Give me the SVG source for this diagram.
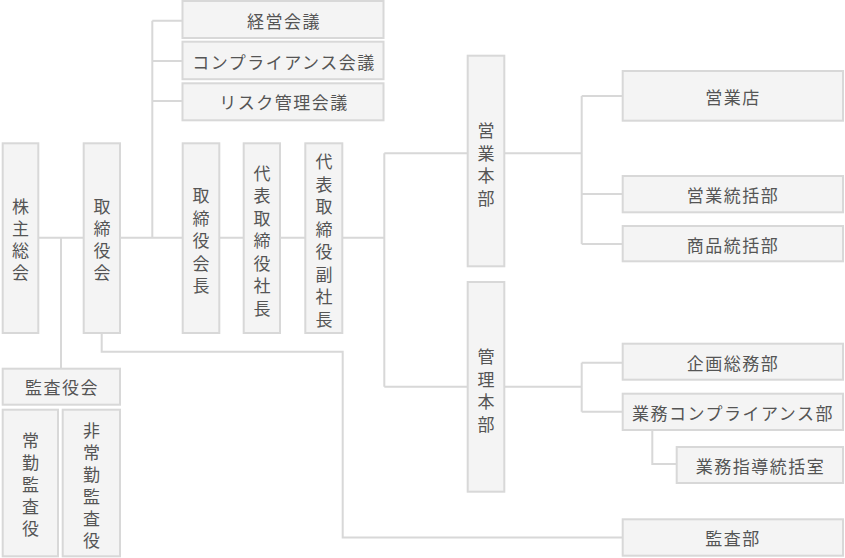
<svg xmlns="http://www.w3.org/2000/svg" width="845" height="558" viewBox="0 0 845 558">
<style>
.box{fill:#f4f4f4;stroke:#d8d8d8;stroke-width:2}
.ln{fill:none;stroke:#d8d8d8;stroke-width:2}
text{font-family:"Noto Sans CJK JP","Noto Sans CJK SC",sans-serif;font-size:17px;fill:#555;text-anchor:middle;dominant-baseline:central}
.h{letter-spacing:1.5px}
</style>
<rect width="845" height="558" fill="#fff"/>
<g id="connectors">
<path class="ln" d="M39 237.7H83M61 237.7V368M121 237.7H182M152.3 20.7V237.7M152.3 20.7H182M152.3 61H182M152.3 101H182M220 237.7H243M281 237.7H305M343 237.7H384.3M384.3 153.3V386.7M384.3 153.3H467M384.3 386.7H467M505 153.3H581.7M581.7 96V244M581.7 96H622M581.7 194H622M581.7 244H622M505 386.7H581.7M581.7 362.7V411.7M581.7 362.7H622M581.7 411.7H622M652.3 431V464H676M101.7 334V351.7H342.7V537.5H622"/>
</g>
<g id="keiei"><rect class="box" x="182.5" y="1" width="201" height="37"/><text class="h" x="284" y="20">経営会議</text></g>
<g id="compkaigi"><rect class="box" x="182.5" y="41.7" width="201" height="37.5"/><text class="h" x="284" y="61">コンプライアンス会議</text></g>
<g id="risk"><rect class="box" x="182.5" y="83.3" width="201" height="37"/><text class="h" x="284" y="101.5">リスク管理会議</text></g>
<g id="kabunushi"><rect class="box" x="2.7" y="143.3" width="35.6" height="189.7"/><text x="20.5"><tspan x="20.5" y="205">株</tspan><tspan x="20.5" y="227">主</tspan><tspan x="20.5" y="249">総</tspan><tspan x="20.5" y="271">会</tspan></text></g>
<g id="torishimariyakukai"><rect class="box" x="83.7" y="143.3" width="36.3" height="189.7"/><text x="102"><tspan x="102" y="205">取</tspan><tspan x="102" y="227">締</tspan><tspan x="102" y="249">役</tspan><tspan x="102" y="271">会</tspan></text></g>
<g id="kaicho"><rect class="box" x="182.7" y="143.3" width="36.6" height="189.7"/><text><tspan x="201" y="194">取</tspan><tspan x="201" y="216.5">締</tspan><tspan x="201" y="239">役</tspan><tspan x="201" y="261.5">会</tspan><tspan x="201" y="284">長</tspan></text></g>
<g id="shacho"><rect class="box" x="243.7" y="143.3" width="36.3" height="189.7"/><text><tspan x="262" y="171.5">代</tspan><tspan x="262" y="194">表</tspan><tspan x="262" y="216.5">取</tspan><tspan x="262" y="239">締</tspan><tspan x="262" y="261.5">役</tspan><tspan x="262" y="284">社</tspan><tspan x="262" y="306.5">長</tspan></text></g>
<g id="fukushacho"><rect class="box" x="305.3" y="143.3" width="37" height="189.7"/><text><tspan x="324" y="160">代</tspan><tspan x="324" y="182.5">表</tspan><tspan x="324" y="205">取</tspan><tspan x="324" y="227.5">締</tspan><tspan x="324" y="250">役</tspan><tspan x="324" y="272.5">副</tspan><tspan x="324" y="295">社</tspan><tspan x="324" y="317.5">長</tspan></text></g>
<g id="eigyohonbu"><rect class="box" x="467.7" y="55.7" width="36.6" height="210.6"/><text><tspan x="486" y="129">営</tspan><tspan x="486" y="151.5">業</tspan><tspan x="486" y="174">本</tspan><tspan x="486" y="196.5">部</tspan></text></g>
<g id="kanrihonbu"><rect class="box" x="467.7" y="282" width="36.6" height="209.7"/><text><tspan x="486" y="355">管</tspan><tspan x="486" y="377.5">理</tspan><tspan x="486" y="400">本</tspan><tspan x="486" y="422.5">部</tspan></text></g>
<g id="eigyoten"><rect class="box" x="622.7" y="71" width="220.3" height="49.7"/><text class="h" x="733" y="96">営業店</text></g>
<g id="eigyotokatsu"><rect class="box" x="622.7" y="176" width="220.3" height="36.3"/><text class="h" x="733" y="194.5">営業統括部</text></g>
<g id="shohin"><rect class="box" x="622.7" y="226" width="220.3" height="35.3"/><text class="h" x="733" y="244">商品統括部</text></g>
<g id="kikaku"><rect class="box" x="622.7" y="343.7" width="220.3" height="36"/><text class="h" x="733" y="362">企画総務部</text></g>
<g id="gyomucomp"><rect class="box" x="622.7" y="393.7" width="220.3" height="36.3"/><text class="h" x="733" y="412">業務コンプライアンス部</text></g>
<g id="gyomushido"><rect class="box" x="676.7" y="447" width="166.3" height="36"/><text class="h" x="760.5" y="465">業務指導統括室</text></g>
<g id="kansabu"><rect class="box" x="622.7" y="519.3" width="220.3" height="36.4"/><text class="h" x="733" y="537.5">監査部</text></g>
<g id="kansayakukai"><rect class="box" x="2.7" y="368.7" width="117.3" height="36"/><text class="h" x="62" y="386.5">監査役会</text></g>
<g id="jokin"><rect class="box" x="2.7" y="409.7" width="55.3" height="146.6"/><text><tspan x="30.5" y="439">常</tspan><tspan x="30.5" y="461">勤</tspan><tspan x="30.5" y="483">監</tspan><tspan x="30.5" y="505">査</tspan><tspan x="30.5" y="527">役</tspan></text></g>
<g id="hijokin"><rect class="box" x="62.7" y="409.7" width="57.3" height="146.6"/><text><tspan x="91.5" y="429">非</tspan><tspan x="91.5" y="451">常</tspan><tspan x="91.5" y="473">勤</tspan><tspan x="91.5" y="495">監</tspan><tspan x="91.5" y="517">査</tspan><tspan x="91.5" y="539">役</tspan></text></g>
</svg>
